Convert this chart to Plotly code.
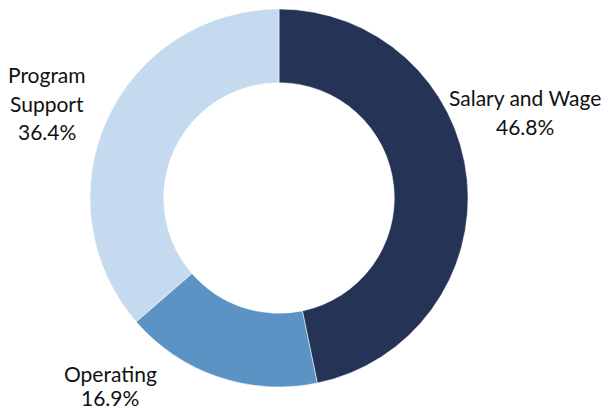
import plotly.graph_objects as go

categories = ["Salary and Wage", "Operating", "Program Support"]
values = [46.8, 16.9, 36.4]
colors = ["#253356", "#5b94c4", "#c5daee"]

W, H = 608, 410
cx, cy, r = 279, 198, 189

fig = go.Figure(go.Pie(
    labels=categories, values=values, sort=False, direction="clockwise",
    rotation=0, hole=0.61, textinfo="none", hoverinfo="label+percent",
    marker=dict(colors=colors, line=dict(color="white", width=0.5)),
    domain=dict(x=[(cx - r) / W, (cx + r) / W], y=[1 - (cy + r) / H, 1 - (cy - r) / H]),
    showlegend=False,
))

label_lines = [
    (["Program", "Support", f"{values[2]}%"], 47, [75, 103, 131]),
    (["Salary and Wage", f"{values[0]}%"], 525, [97, 126]),
    (["Operating", f"{values[1]}%"], 110, [373, 397]),
]
ann = []
for lines, x, ys in label_lines:
    for t, y in zip(lines, ys):
        ann.append(dict(text=t, x=x / W, y=1 - y / H, xref="paper", yref="paper",
                        showarrow=False, xanchor="center", yanchor="middle",
                        font=dict(family="Lato", size=21, color="#111111")))

fig.update_layout(width=W, height=H, margin=dict(l=0, r=0, t=0, b=0),
                  paper_bgcolor="white", plot_bgcolor="white", annotations=ann)
fig.write_html(
    "out.html",
    config={"displayModeBar": False},
    post_script="document.body.style.margin='0';document.documentElement.style.overflow='hidden';",
)
